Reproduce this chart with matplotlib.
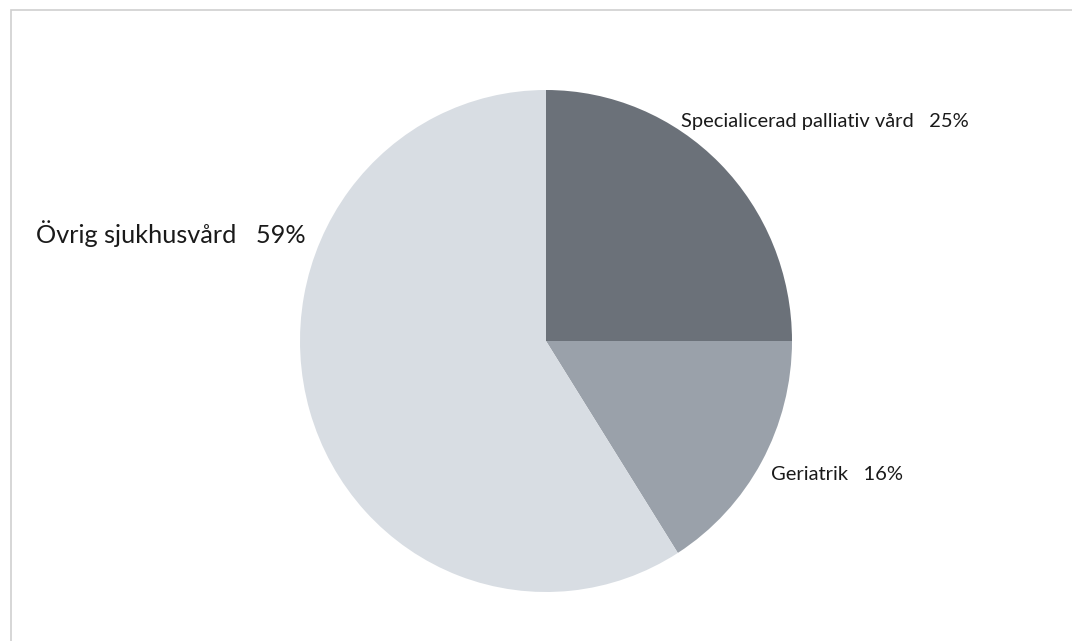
import matplotlib.pyplot as plt
from matplotlib.patches import Rectangle

# andel per vårdform, procent
vardform = ['Specialicerad palliativ vård', 'Geriatrik', 'Övrig sjukhusvård']
andel = [25, 16, 59]
farger = ['#6b7179', '#9aa1aa', '#d8dde3']

W, H = 1072, 641
plt.rcParams['font.family'] = ['Lato', 'DejaVu Sans']

fig = plt.figure(figsize=(W / 100, H / 100), dpi=100)

# ram runt diagramytan
fig.patches.append(Rectangle((11 / W, -0.05), 1.1, (H - 10) / H + 0.05, transform=fig.transFigure,
                             fill=False, edgecolor='#cfcfcf', linewidth=1.2))

cx, cy, rx, ry = 546, 341, 246, 251
ax = fig.add_axes([(cx - rx) / W, (H - cy - ry) / H, 2 * rx / W, 2 * ry / H])
ax.pie(andel, colors=farger, startangle=90, counterclock=False, radius=1,
       wedgeprops={'linewidth': 0})
ax.set_aspect('auto')
ax.set_xlim(-1, 1)
ax.set_ylim(-1, 1)
ax.axis('off')

# etiketter med namn och procent
pos = [(681, 121, 14.5), (771, 475, 14.5), (36, 234, 18.2)]
for namn, v, (x, y, fs) in zip(vardform, andel, pos):
    fig.text(x / W, 1 - y / H, f'{namn}   {v}%', ha='left', va='center',
             fontsize=fs, color='#1a1a1a')

fig.savefig('out.png', dpi=100)
